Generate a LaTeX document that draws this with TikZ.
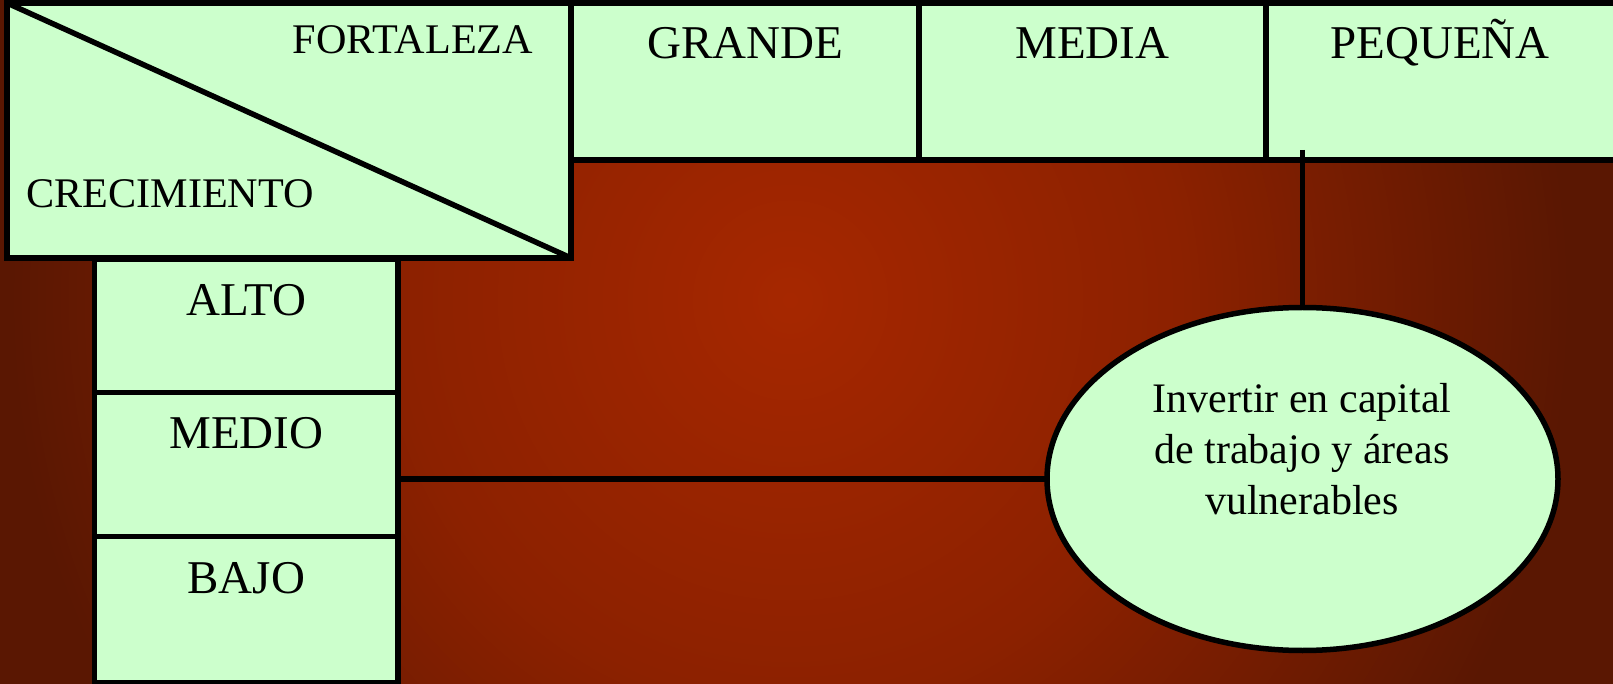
\documentclass[tikz,border=0pt]{standalone}
\usepackage{fontspec}
\setmainfont{Liberation Serif}
\usetikzlibrary{shapes.geometric}
\definecolor{cellgreen}{HTML}{CCFFCC}
\definecolor{bgdark}{HTML}{5A1702}
\definecolor{bgmid}{HTML}{8C2100}
\definecolor{bgbright}{HTML}{A62700}
\pgfdeclareradialshading{bgsh}{\pgfpointorigin}{color(0bp)=(bgbright); color(12.5bp)=(bgmid); color(25bp)=(bgdark); color(50bp)=(bgdark)}
\tikzset{
  cell/.style={draw=black, fill=cellgreen, line width=2.75pt, rectangle, inner sep=0pt, outer sep=0pt},
  bigtxt/.style={font=\fontsize{23.5}{28}\selectfont, inner sep=0pt, anchor=base},
  cornertxt/.style={font=\fontsize{21.1}{25}\selectfont, inner sep=0pt, anchor=base},
  conn/.style={draw=black, line width=2.75pt},
  bubble/.style={ellipse, draw=black, fill=cellgreen, line width=2.75pt, inner sep=0pt, outer sep=0pt},
  bubbletxt/.style={font=\fontsize{21}{25.5}\selectfont, align=center, inner sep=0pt}
}
\begin{document}
\begin{tikzpicture}[x=0.5pt, y=-0.5pt]
\useasboundingbox (0,0) rectangle (1613,684);
\clip (0,0) rectangle (1613,684);
% background
\fill[bgdark] (0,0) rectangle (1613,684);
\shade[shading=bgsh] (790,300) ellipse [x radius=780, y radius=800];
% left column
\node[cell, minimum width=151.75pt, minimum height=66.75pt] (alto) at (246.25,325.75) {};
\node[cell, minimum width=151.75pt, minimum height=72pt] (medio) at (246.25,464.5) {};
\node[cell, minimum width=151.75pt, minimum height=73.25pt] (bajo) at (246.25,609.75) {};
% corner
\node[cell, minimum width=282pt, minimum height=127.5pt] (corner) at (289,130.5) {};
\draw[conn] (corner.north west) -- (corner.south east);
% header
\node[cell, minimum width=174pt, minimum height=78.5pt] (grande) at (745,81.5) {};
\node[cell, minimum width=173.5pt, minimum height=78.5pt] (media) at (1092.5,81.5) {};
\node[cell, minimum width=177pt, minimum height=78.5pt] (peq) at (1443,81.5) {};
% labels
\node[cornertxt] (tfort) at (413,54) {FORTALEZA};
\node[cornertxt] (tcrec) at (170,208) {CRECIMIENTO};
\node[bigtxt] (tgrande) at (grande.center |- 0,59) {GRANDE};
\node[bigtxt] (tmedia) at (media.center |- 0,59) {MEDIA};
\node[bigtxt] (tpeq) at (1440,59) {PEQUEÑA};
\node[bigtxt] (talto) at (alto.center |- 0,316) {ALTO};
\node[bigtxt] (tmedio) at (medio.center |- 0,448) {MEDIO};
\node[bigtxt] (tbajo) at (bajo.center |- 0,593) {BAJO};
% bubble
\node[bubble, minimum width=255.5pt, minimum height=171.5pt] (elli) at (1302.5,479) {};
\node[bubbletxt] (ellitxt) at (1302,449) {Invertir en capital\\de trabajo y áreas\\vulnerables};
% connectors
\coordinate (stub) at (1302.5,150);
\draw[conn] (stub) -- (elli.north);
\draw[conn] (elli.west) -- (elli.west -| medio.east);
\end{tikzpicture}
\end{document}
